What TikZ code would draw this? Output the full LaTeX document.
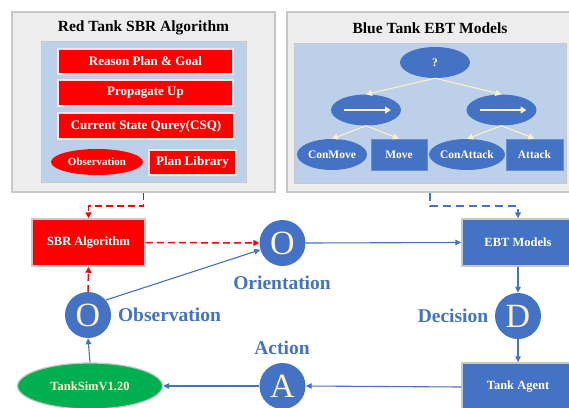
\documentclass[tikz,border=0pt]{standalone}
\usepackage{fontspec}
\setmainfont{Liberation Serif}
\usetikzlibrary{arrows.meta,shapes.geometric,calc}
\definecolor{bl}{HTML}{4472C4}
\definecolor{cream}{HTML}{FFF2CC}
\definecolor{arr}{HTML}{FFF0C6}
\definecolor{innerc}{HTML}{BDD0E9}
\definecolor{outerg}{HTML}{EDEDED}
\definecolor{outerb}{HTML}{C8C8C8}
\definecolor{grn}{HTML}{00B050}
\newcommand\myfs[1]{\fontsize{#1}{#1}\selectfont}
\begin{document}
\begin{tikzpicture}[x=1pt,y=-1pt,
  panel/.style={rectangle,draw=outerb,fill=outerg,line width=1.5pt,inner sep=0},
  innerp/.style={rectangle,draw=outerb,fill=innerc,line width=1pt,inner sep=0},
  title/.style={font=\myfs{15.5}\bfseries,text=black,inner sep=0},
  redbox/.style={rectangle,fill=red,draw=white!88!red,line width=1.2pt,text=white,font=\myfs{13}\bfseries,inner sep=0},
  redell/.style={ellipse,fill=red,draw=none,text=white,font=\myfs{11}\bfseries,inner sep=0},
  tell/.style={ellipse,fill=bl,draw=none,text=white,font=\myfs{11.5}\bfseries,inner sep=0,minimum width=70pt,minimum height=31pt},
  tbox/.style={rectangle,fill=bl,draw=bl!80!white,line width=0.8pt,text=white,font=\myfs{11.5}\bfseries,inner sep=0,minimum height=31pt},
  tarrow/.style={draw=arr,line width=1.1pt,-{Triangle[length=6pt,width=6pt]}},
  bigbox/.style={rectangle,draw=outerb,line width=1.5pt,text=white,font=\myfs{12.5}\bfseries,inner sep=0},
  circ/.style={circle,fill=bl,draw=none,text=cream,font=\myfs{34},inner sep=0,minimum size=46pt},
  lab/.style={text=bl,font=\myfs{19.5}\bfseries,inner sep=0},
  barrow/.style={draw=bl,line width=1.1pt,-{Triangle[length=6pt,width=5.5pt]}},
  rdash/.style={draw=red,line width=1.5pt,dash pattern=on 7pt off 4pt,-{Triangle[length=6pt,width=6pt]}},
  bdash/.style={draw=bl,line width=1.5pt,dash pattern=on 8pt off 5pt,-{Triangle[length=6pt,width=6pt]}}
]
\useasboundingbox (0,0) rectangle (569,407);
\fill[white] (0,0) rectangle (569,407);

% left panel
\node[panel,minimum width=263pt,minimum height=180pt] (lp) at (143.5,102) {};
\node[innerp,minimum width=205pt,minimum height=141pt] (li) at (143.5,111.5) {};
\node[title] (lt) at (143.5,28) {Red Tank SBR Algorithm};
\node[redbox,minimum width=175pt,minimum height=25pt] (r1) at (145.5,61.5) {Reason Plan \& Goal};
\node[redbox,minimum width=175pt,minimum height=26pt] (r2) at (145.5,93) {Propagate Up};
\node[redbox,minimum width=176pt,minimum height=26pt] (r3) at (146,126) {Current State Qurey(CSQ)};
\node[redell,minimum width=92pt,minimum height=26pt] (r4) at (97,162) {Observation};
\node[redbox,minimum width=87pt,minimum height=25pt] (r5) at (192.5,162.5) {Plan Library};

% right panel
\node[panel,minimum width=286pt,minimum height=180pt] (rp) at (430,102) {};
\node[innerp,minimum width=272pt,minimum height=140pt] (ri) at (430,113) {};
\node[title] (rt) at (430,28) {Blue Tank EBT Models};
\node[tell] (q) at (435,62.5) {?};
\node[tell] (ml) at (366,110) {};
\node[tell] (mr) at (501.5,110) {};
\node[tell] (cm) at (332,154.5) {ConMove};
\node[tbox,minimum width=56pt] (mv) at (399,154.5) {Move};
\node[tell] (ca) at (467,154.5) {ConAttack};
\node[tbox,minimum width=57pt] (at) at (534.5,154.5) {Attack};
\draw[tarrow] (q.south) -- (ml.north);
\draw[tarrow] (q.south) -- (mr.north);
\draw[tarrow] (ml.south) -- (cm.north);
\draw[tarrow] (ml.south) -- (mv.north);
\draw[tarrow] (mr.south) -- (ca.north);
\draw[tarrow] (mr.south) -- (at.north);
\draw[draw=arr,line width=2pt,-{Triangle[length=6pt,width=7pt]}] ($(ml.center)+(-22,0)$) -- ++(47,0);
\draw[draw=arr,line width=2pt,-{Triangle[length=6pt,width=7pt]}] ($(mr.center)+(-22,0)$) -- ++(47,0);

% lower diagram
\node[bigbox,fill=red,minimum width=113pt,minimum height=47pt] (sbr) at (88.5,242.5) {SBR Algorithm};
\node[bigbox,fill=bl,minimum width=112pt,minimum height=47pt] (ebt) at (518,242.5) {EBT Models};
\node[bigbox,fill=bl,minimum width=112pt,minimum height=48pt] (ta) at (518,387) {Tank Agent};
\node[ellipse,fill=grn,draw=outerb,line width=1.2pt,text=cream,font=\myfs{12.5}\bfseries,inner sep=0,minimum width=145pt,minimum height=46pt] (sim) at (90,386) {TankSimV1.20};
\node[circ] (oo) at (88,315) {O};
\node[circ] (or) at (282.5,243) {O};
\node[circ] (dd) at (518,316) {D};
\node[circ] (aa) at (282.5,386) {A};
\node[lab] (lobs) at (169.5,315) {Observation};
\node[lab] (lori) at (282,282.5) {Orientation};
\node[lab] (ldec) at (453,316) {Decision};
\node[lab] (lact) at (282,348) {Action};

\draw[rdash] (lp.south) -- ++(0,13) -| (sbr.north);
\draw[bdash] (rp.south) -- ++(0,13) -| (ebt.north);
\draw[rdash] (sbr.east) -- (or.west);
\draw[rdash] (oo.north) -- (sbr.south);
\draw[barrow] (oo.40) -- (or.197);
\draw[barrow] (or.east) -- (ebt.west);
\draw[barrow] (ebt.south) -- (dd.north);
\draw[barrow] (dd.south) -- (ta.north);
\draw[barrow] (ta.west) -- (aa.east);
\draw[barrow] (aa.west) -- (sim.east);
\draw[barrow] (sim.north) -- (oo.south);
\end{tikzpicture}
\end{document}
